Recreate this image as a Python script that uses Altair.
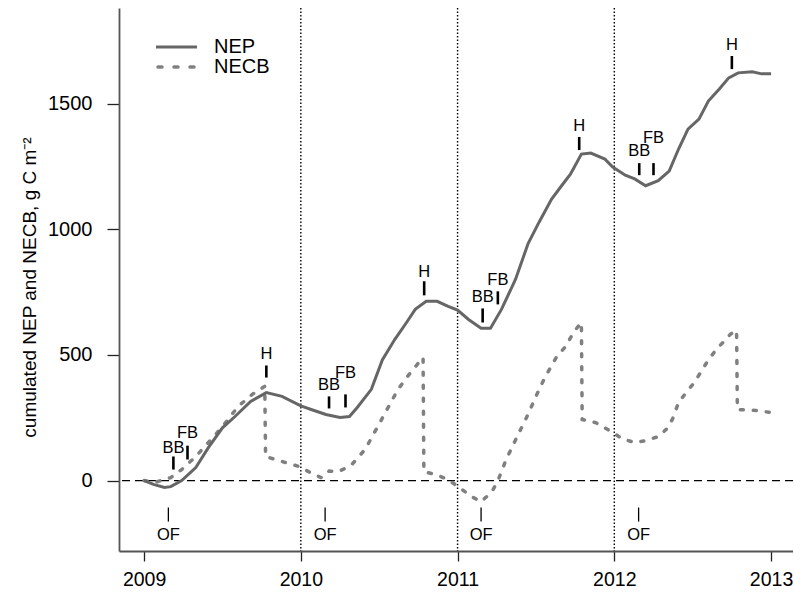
import altair as alt
import pandas as pd

# ---- data ----
nep_year = [2009.00, 2009.06, 2009.13, 2009.17, 2009.24, 2009.33, 2009.41, 2009.50, 2009.58, 2009.68,
            2009.78, 2009.88, 2010.00, 2010.08, 2010.16, 2010.25, 2010.31, 2010.36, 2010.45, 2010.52,
            2010.60, 2010.67, 2010.73, 2010.80, 2010.87, 2010.94, 2011.00, 2011.07, 2011.15, 2011.21,
            2011.28, 2011.37, 2011.45, 2011.52, 2011.60, 2011.66, 2011.72, 2011.79, 2011.85, 2011.94,
            2011.99, 2012.07, 2012.13, 2012.20, 2012.28, 2012.35, 2012.41, 2012.47, 2012.54, 2012.60,
            2012.67, 2012.73, 2012.79, 2012.88, 2012.94, 2013.00]
nep_val = [0, -15, -27, -24, 0, 52, 131, 210, 255, 315,
           350, 335, 297, 280, 263, 251, 255, 291, 363, 480,
           562, 625, 681, 713, 713, 693, 678, 641, 606, 606,
           681, 801, 943, 1028, 1120, 1170, 1219, 1299, 1303, 1279,
           1247, 1215, 1200, 1173, 1193, 1231, 1319, 1398, 1438, 1510,
           1558, 1602, 1622, 1626, 1618, 1618]

necb_year = [2009.00, 2009.08, 2009.17, 2009.24, 2009.33, 2009.43, 2009.50, 2009.60, 2009.69, 2009.77,
             2009.775, 2009.88, 2009.99, 2010.06, 2010.13, 2010.18, 2010.24, 2010.32, 2010.41, 2010.48,
             2010.55, 2010.62, 2010.70, 2010.78, 2010.785, 2010.86, 2010.94, 2011.03, 2011.09, 2011.15,
             2011.22, 2011.26, 2011.31, 2011.38, 2011.44, 2011.50, 2011.56, 2011.63, 2011.69, 2011.74,
             2011.79, 2011.795, 2011.88, 2011.98, 2012.05, 2012.13, 2012.20, 2012.28, 2012.33, 2012.37,
             2012.41, 2012.46, 2012.51, 2012.55, 2012.59, 2012.65, 2012.70, 2012.74, 2012.78, 2012.785,
             2012.90, 2013.00]
necb_val = [0, -5, 12, 44, 96, 165, 215, 295, 343, 375,
            96, 76, 56, 32, 12, 38, 36, 60, 124, 203,
            283, 363, 430, 490, 36, 24, 4, -36, -64, -84,
            -44, 4, 84, 175, 251, 335, 414, 490, 534, 590,
            629, 243, 231, 195, 167, 151, 159, 175, 203, 243,
            311, 351, 390, 430, 470, 522, 554, 582, 598, 283,
            279, 271]

year_lines = [2010, 2011, 2012]

ann_label = ["BB", "FB", "H", "BB", "FB", "H", "BB", "FB", "H", "BB", "FB", "H"]
ann_year = [2009.187, 2009.277, 2009.78, 2010.18, 2010.285, 2010.787,
            2011.16, 2011.257, 2011.776, 2012.159, 2012.25, 2012.75]
ann_lo = [44, 84, 410, 287, 291, 737, 629, 701, 1315, 1215, 1215, 1637]
ann_hi = [96, 139, 458, 335, 343, 793, 685, 753, 1367, 1263, 1263, 1689]
ann_text = [131, 191, 502, 382, 430, 829, 729, 797, 1410, 1311, 1363, 1733]

of_label = ["OF", "OF", "OF", "OF"]
of_year = [2009.155, 2010.155, 2011.15, 2012.155]
of_lo = [-163, -163, -163, -163]
of_hi = [-107, -107, -107, -107]
of_text = [-215, -215, -215, -215]

x_ticks = [2009, 2010, 2011, 2012, 2013]
y_ticks = [0, 500, 1000, 1500]

FONT = "Liberation Sans"
xs = alt.Scale(domain=[2008.84, 2013.14], nice=False, zero=False)
ys = alt.Scale(domain=[-280, 1880], nice=False, zero=False)

x_axis = alt.Axis(values=x_ticks, format="d", title=None, grid=False, labelFontSize=19.5,
                  labelFont=FONT, labelColor="black", tickSize=10, tickColor="#222",
                  tickWidth=1.3, domainColor="#555", domainWidth=1.8, labelPadding=9,
                  labelFlush=False)
y_axis = alt.Axis(values=y_ticks, format="d", title="cumulated NEP and NECB, g C m\u207b\u00b2",
                  grid=False,
                  labelFontSize=20, labelFont=FONT, labelColor="black", labelAngle=0,
                  tickSize=12, tickColor="#222", tickWidth=1.3, domainColor="#555",
                  domainWidth=1.8, labelPadding=15, labelFlush=False,
                  titleFont=FONT, titleFontSize=19, titleFontWeight="normal", titleColor="black",
                  titleAngle=270, titleX=-90, titleY=279, titleAlign="center",
                  titleBaseline="middle")


def X(field):
    return alt.X(field, type="quantitative", scale=xs, axis=x_axis)


def Y(field):
    return alt.Y(field, type="quantitative", scale=ys, axis=y_axis)


nep_df = pd.DataFrame({"year": nep_year, "value": nep_val, "i": range(len(nep_year))})
necb_df = pd.DataFrame({"year": necb_year, "value": necb_val, "i": range(len(necb_year))})
ann_df = pd.DataFrame({"year": ann_year, "lo": ann_lo, "hi": ann_hi, "ty": ann_text, "label": ann_label})
of_df = pd.DataFrame({"year": of_year, "lo": of_lo, "hi": of_hi, "ty": of_text, "label": of_label})
vl_df = pd.DataFrame({"year": year_lines})
zero_df = pd.DataFrame({"value": [0]})

zero_line = alt.Chart(zero_df).mark_rule(color="black", strokeWidth=1.2, strokeDash=[8, 5]).encode(
    y=Y("value"))
vlines = alt.Chart(vl_df).mark_rule(color="black", strokeWidth=1.4, strokeDash=[1.5, 2]).encode(
    x=X("year"))

necb_line = alt.Chart(necb_df).mark_line(color="#808080", strokeWidth=3.5, strokeDash=[3, 10],
                                         strokeCap="round").encode(
    x=X("year"), y=Y("value"), order="i:Q")
nep_line = alt.Chart(nep_df).mark_line(color="#666666", strokeWidth=3).encode(
    x=X("year"), y=Y("value"), order="i:Q")

ann_ticks = alt.Chart(ann_df).mark_rule(color="black", strokeWidth=2.6).encode(
    x=X("year"), y=Y("lo"), y2="hi")
ann_labels = alt.Chart(ann_df).mark_text(font=FONT, fontSize=16.5, color="black",
                                         baseline="middle", align="center").encode(
    x=X("year"), y=Y("ty"), text="label:N")

of_ticks = alt.Chart(of_df).mark_rule(color="black", strokeWidth=1.3).encode(
    x=X("year"), y=Y("lo"), y2="hi")
of_labels = alt.Chart(of_df).mark_text(font=FONT, fontSize=16.5, color="black",
                                       baseline="middle", align="center").encode(
    x=X("year"), y=Y("ty"), text="label:N")

# manual legend (top-left, inside the plot)
leg_src = pd.DataFrame({"k": [0]})
leg_nep_line = alt.Chart(leg_src).mark_rule(color="#666666", strokeWidth=3).encode(
    x=alt.value(37), x2=alt.value(78), y=alt.value(39))
leg_necb_line = alt.Chart(leg_src).mark_rule(color="#808080", strokeWidth=3.5, strokeDash=[4, 12],
                                             strokeCap="round").encode(
    x=alt.value(39), x2=alt.value(80), y=alt.value(59))
leg_nep_text = alt.Chart(leg_src).mark_text(font=FONT, fontSize=20, color="black", align="left",
                                            baseline="middle").encode(
    x=alt.value(95), y=alt.value(39), text=alt.value("NEP"))
leg_necb_text = alt.Chart(leg_src).mark_text(font=FONT, fontSize=20, color="black", align="left",
                                             baseline="middle").encode(
    x=alt.value(95), y=alt.value(59), text=alt.value("NECB"))

chart = alt.layer(
    zero_line, vlines, necb_line, nep_line, ann_ticks, ann_labels, of_ticks, of_labels,
    leg_nep_line, leg_necb_line, leg_nep_text, leg_necb_text
).properties(
    width=674, height=543,
    autosize=alt.AutoSizeParams(type="none"),
    padding={"left": 119, "top": 8, "right": 0, "bottom": 40},
    background="white",
).configure_view(stroke=None)

chart.save("out.html", embed_options={"renderer": "svg", "actions": False})
